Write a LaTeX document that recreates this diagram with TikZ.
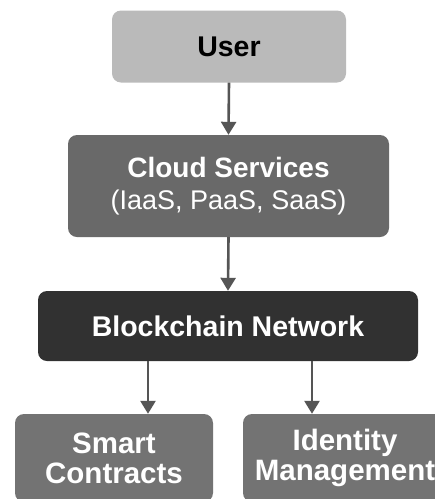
\documentclass[tikz,border=0pt]{standalone}
\usepackage{fontspec}
\setmainfont{Liberation Sans}
\usetikzlibrary{arrows.meta}
\definecolor{userfill}{HTML}{BABABA}
\definecolor{cloudfill}{HTML}{696969}
\definecolor{chainfill}{HTML}{313131}
\definecolor{leaffill}{HTML}{737373}
\definecolor{arrowcol}{HTML}{555555}
\tikzset{
  box/.style={rounded corners=9pt, inner sep=0pt, align=center, draw=none},
  arr/.style={draw=arrowcol, line width=2.6pt, -{Triangle[width=15pt,length=13pt]}},
  bigtxt/.style={font=\fontsize{28.5}{30}\selectfont\bfseries},
  leaftxt/.style={font=\fontsize{29.5}{30}\selectfont\bfseries}
}
\begin{document}
\begin{tikzpicture}[x=1pt,y=-1pt]
\clip (0,0) rectangle (435,499);
\fill[white] (0,0) rectangle (435,499);
\node[box, fill=userfill, text=black, bigtxt, minimum width=234pt, minimum height=72pt] (user) at (229,46.5) {User};
\node[box, fill=cloudfill, text=white, font=\fontsize{28}{32}\selectfont, minimum width=321pt, minimum height=102pt] (cloud) at (228.5,186)
  {\textbf{Cloud Services}\\{\fontsize{27}{32}\selectfont (IaaS, PaaS, SaaS)}};
\node[box, fill=chainfill, text=white, bigtxt, minimum width=380pt, minimum height=70pt] (chain) at (228,326) {Blockchain Network};
\node[box, fill=leaffill, text=white, leaftxt, minimum width=198pt, minimum height=88pt] (smart) at (114,458) {Smart\\Contracts};
\node[box, fill=leaffill, text=white, leaftxt, minimum width=204pt, minimum height=88pt] (ident) at (345,458) {Identity\\Management};
\coordinate (xl) at (148,0);
\coordinate (xr) at (312,0);
\draw[arr] (user.south) -- (cloud.north);
\draw[arr] (cloud.south) -- (chain.north);
\draw[arr] (chain.south -| xl) -- (smart.north -| xl);
\draw[arr] (chain.south -| xr) -- (ident.north -| xr);
\end{tikzpicture}
\end{document}
